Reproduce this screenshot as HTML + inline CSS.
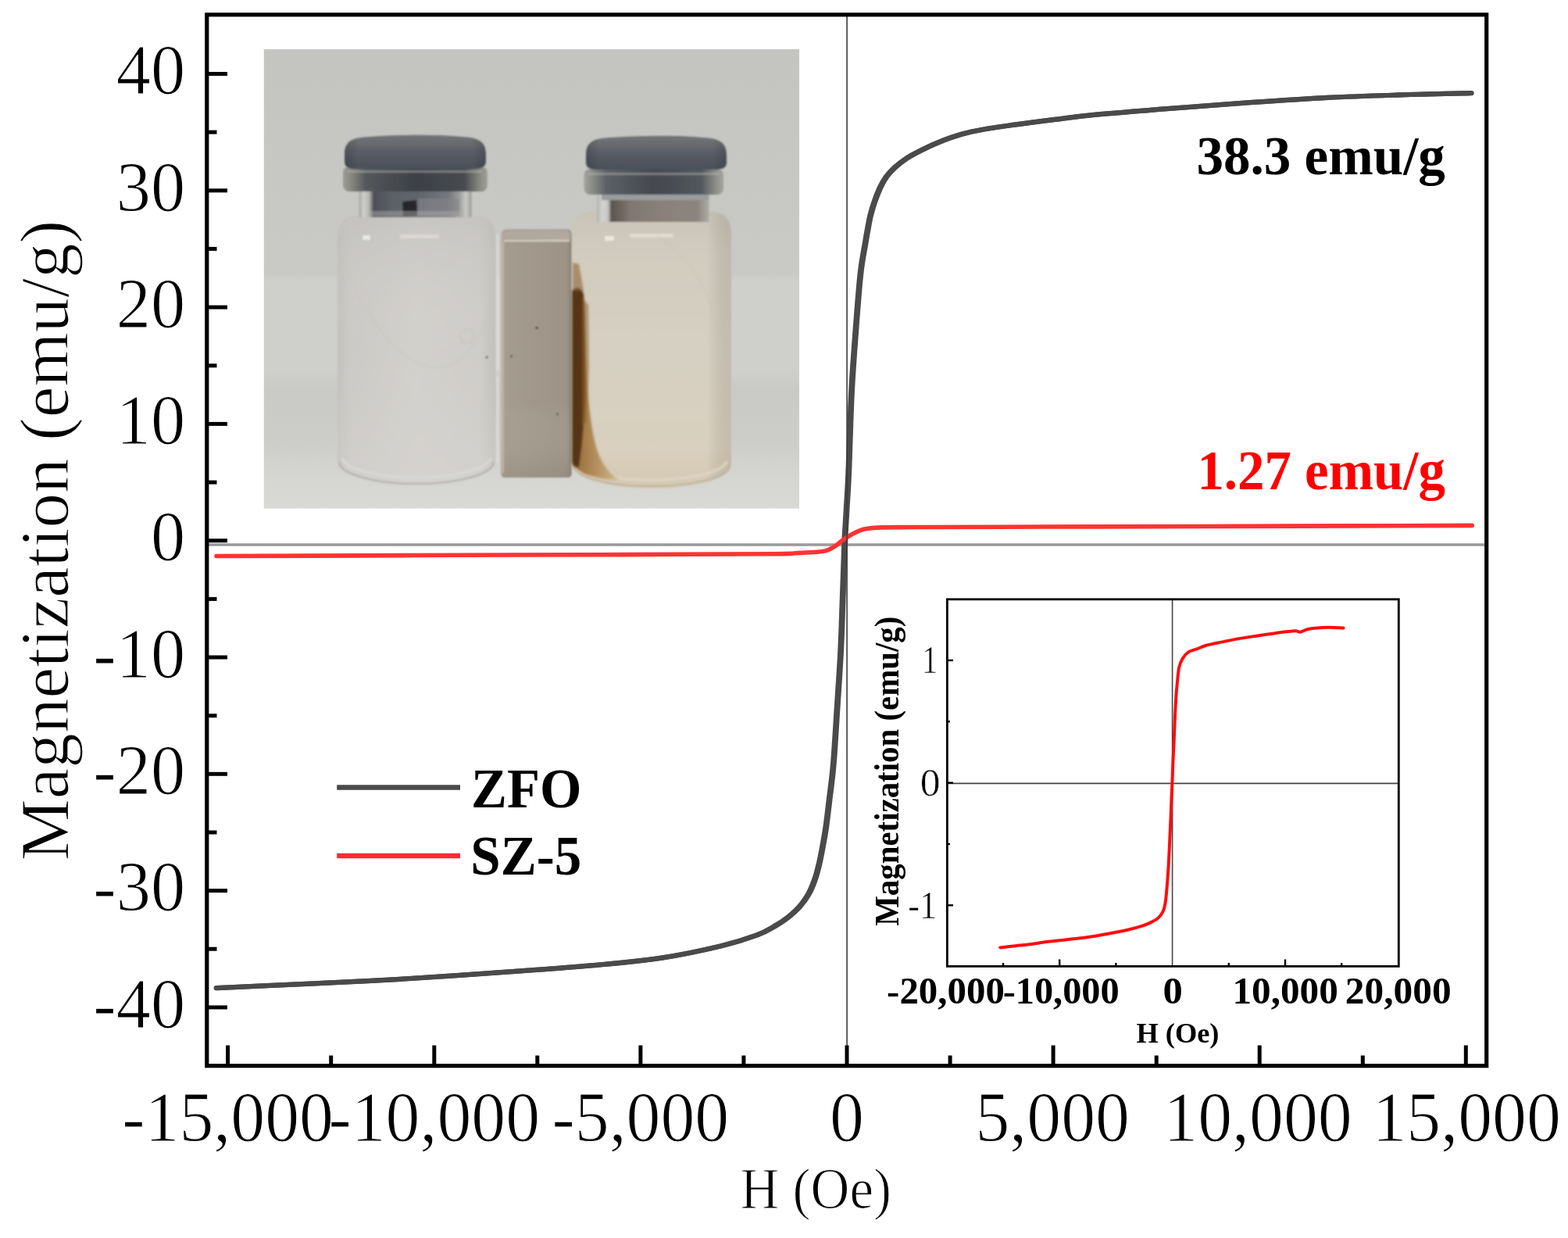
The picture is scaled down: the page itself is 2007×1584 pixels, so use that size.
<!DOCTYPE html>
<html><head><meta charset="utf-8"><title>Magnetization curves</title>
<style>
html,body{margin:0;padding:0;background:#fff;}
body{width:2007px;height:1584px;overflow:hidden;}
svg{display:block;}
text{font-family:"Liberation Serif","Times New Roman",serif;}
.thin{stroke:#fff;stroke-width:1.2px;}
.thin2{stroke:#fff;stroke-width:0.6px;}
</style></head><body>
<svg width="2007" height="1584" viewBox="0 0 2007 1584" font-family="'Liberation Serif', 'Times New Roman', serif">
<defs>
  <clipPath id="pc"><rect x="337.5" y="62.8" width="685.7" height="588"/></clipPath>
  <linearGradient id="bg" x1="0" y1="0" x2="0" y2="1">
    <stop offset="0" stop-color="#c4c5c1"/>
    <stop offset="0.49" stop-color="#c9cac6"/>
    <stop offset="0.505" stop-color="#cfd0cc"/>
    <stop offset="0.70" stop-color="#cfd0cc"/>
    <stop offset="0.74" stop-color="#c9cac5"/>
    <stop offset="0.86" stop-color="#cdcec9"/>
    <stop offset="0.93" stop-color="#d5d6d2"/>
    <stop offset="1" stop-color="#d8d9d5"/>
  </linearGradient>
  <linearGradient id="lbody" x1="0" y1="0" x2="1" y2="0">
    <stop offset="0" stop-color="#c3c1bd"/>
    <stop offset="0.08" stop-color="#ccCAc6"/>
    <stop offset="0.5" stop-color="#d2d0cc"/>
    <stop offset="0.9" stop-color="#cfcdc9"/>
    <stop offset="1" stop-color="#c2c0bb"/>
  </linearGradient>
  <linearGradient id="lbodyV" x1="0" y1="0" x2="0" y2="1">
    <stop offset="0" stop-color="#bdbbb8" stop-opacity="0.5"/>
    <stop offset="0.25" stop-color="#c8c6c2" stop-opacity="0.2"/>
    <stop offset="0.5" stop-color="#d6d4d0" stop-opacity="0"/>
    <stop offset="1" stop-color="#dad8d5" stop-opacity="0.4"/>
  </linearGradient>
  <linearGradient id="rbody" x1="0" y1="0" x2="0" y2="1">
    <stop offset="0" stop-color="#c9c4b7"/>
    <stop offset="0.15" stop-color="#d1ccbf"/>
    <stop offset="0.5" stop-color="#d6d0c2"/>
    <stop offset="0.85" stop-color="#d9d0bf"/>
    <stop offset="1" stop-color="#d5c8b1"/>
  </linearGradient>
  <linearGradient id="rbodyH" x1="0" y1="0" x2="1" y2="0">
    <stop offset="0" stop-color="#000" stop-opacity="0"/>
    <stop offset="0.85" stop-color="#000" stop-opacity="0"/>
    <stop offset="1" stop-color="#6b6455" stop-opacity="0.18"/>
  </linearGradient>
  <linearGradient id="cap" x1="0" y1="0" x2="0" y2="1">
    <stop offset="0" stop-color="#727477"/>
    <stop offset="0.3" stop-color="#67696d"/>
    <stop offset="0.45" stop-color="#5b5f67"/>
    <stop offset="1" stop-color="#4b505a"/>
  </linearGradient>
  <linearGradient id="capH" x1="0" y1="0" x2="1" y2="0">
    <stop offset="0" stop-color="#000" stop-opacity="0.15"/>
    <stop offset="0.1" stop-color="#000" stop-opacity="0"/>
    <stop offset="0.9" stop-color="#000" stop-opacity="0"/>
    <stop offset="1" stop-color="#000" stop-opacity="0.15"/>
  </linearGradient>
  <linearGradient id="rimL" x1="0" y1="0" x2="1" y2="0">
    <stop offset="0" stop-color="#9c9d95"/>
    <stop offset="0.06" stop-color="#85867f"/>
    <stop offset="0.16" stop-color="#54575b"/>
    <stop offset="0.5" stop-color="#3d4046"/>
    <stop offset="0.84" stop-color="#474a50"/>
    <stop offset="0.94" stop-color="#85867f"/>
    <stop offset="1" stop-color="#a0a199"/>
  </linearGradient>
  <linearGradient id="rimR" x1="0" y1="0" x2="1" y2="0">
    <stop offset="0" stop-color="#a3a49c"/>
    <stop offset="0.06" stop-color="#8a8c88"/>
    <stop offset="0.16" stop-color="#5c6065"/>
    <stop offset="0.5" stop-color="#44484e"/>
    <stop offset="0.84" stop-color="#53575c"/>
    <stop offset="0.94" stop-color="#8a8c88"/>
    <stop offset="1" stop-color="#a6a79f"/>
  </linearGradient>
  <linearGradient id="neckL" x1="0" y1="0" x2="1" y2="0">
    <stop offset="0" stop-color="#a4a5a1"/>
    <stop offset="0.04" stop-color="#cfd0cc"/>
    <stop offset="0.09" stop-color="#b4b5b1"/>
    <stop offset="0.13" stop-color="#4d5056"/>
    <stop offset="0.3" stop-color="#5c6068"/>
    <stop offset="0.55" stop-color="#62666d"/>
    <stop offset="0.8" stop-color="#76787c"/>
    <stop offset="0.89" stop-color="#9c9d9b"/>
    <stop offset="0.95" stop-color="#c9cac6"/>
    <stop offset="1" stop-color="#9a9b96"/>
  </linearGradient>
  <linearGradient id="neckR" x1="0" y1="0" x2="1" y2="0">
    <stop offset="0" stop-color="#b3b4b0"/>
    <stop offset="0.05" stop-color="#d3d4d1"/>
    <stop offset="0.1" stop-color="#c4c5c2"/>
    <stop offset="0.13" stop-color="#5a5550"/>
    <stop offset="0.3" stop-color="#7f7770"/>
    <stop offset="0.6" stop-color="#8a827a"/>
    <stop offset="0.9" stop-color="#8c857d"/>
    <stop offset="1" stop-color="#aeaea9"/>
  </linearGradient>
  <linearGradient id="mag" x1="0" y1="0" x2="1" y2="0">
    <stop offset="0" stop-color="#c3bbae"/>
    <stop offset="0.04" stop-color="#a59c8f"/>
    <stop offset="0.5" stop-color="#a1988b"/>
    <stop offset="0.93" stop-color="#9d9487"/>
    <stop offset="1" stop-color="#8a8175"/>
  </linearGradient>
  <linearGradient id="magV" x1="0" y1="0" x2="0" y2="1">
    <stop offset="0" stop-color="#fff" stop-opacity="0"/>
    <stop offset="0.7" stop-color="#fff" stop-opacity="0"/>
    <stop offset="1" stop-color="#7a7368" stop-opacity="0.2"/>
  </linearGradient>
  <linearGradient id="brownMed" x1="0" y1="0" x2="1" y2="0">
    <stop offset="0" stop-color="#8a5e28"/>
    <stop offset="0.4" stop-color="#a98048"/>
    <stop offset="1" stop-color="#cdb58c"/>
  </linearGradient>
  <filter id="soft" x="-5%" y="-5%" width="110%" height="110%"><feGaussianBlur stdDeviation="1"/></filter>
  <filter id="soft2" x="-20%" y="-20%" width="140%" height="140%"><feGaussianBlur stdDeviation="1.8"/></filter>
</defs>
<g clip-path="url(#pc)">
  <rect x="337.5" y="62.8" width="685.7" height="588" fill="url(#bg)"/>
  <g filter="url(#soft)">
    <!-- ===== left vial ===== -->
    <path d="M432,304 C432,283 442,276 462,275 L604,275 C624,276 634,283 634,304 L634,590 C634,608 590,622 533,622 C476,622 432,608 432,590 Z" fill="url(#lbody)"/>
    <path d="M432,304 C432,283 442,276 462,275 L604,275 C624,276 634,283 634,304 L634,590 C634,608 590,622 533,622 C476,622 432,608 432,590 Z" fill="url(#lbodyV)"/>
    <path d="M434,592 C436,606 478,619 533,619 C588,619 630,606 632,592" fill="none" stroke="#b3b2ae" stroke-width="2"/>
    <path d="M438,586 C442,600 482,611 533,611 C584,611 624,600 628,586" fill="none" stroke="#d9d8d5" stroke-width="4" opacity="0.8"/>
    <path d="M434,302 C436,288 444,281 460,280" fill="none" stroke="#c7c6c4" stroke-width="2"/>
    <rect x="459.6" y="243" width="144" height="35" fill="url(#neckL)"/>
    <path d="M515,258 L533,256 L534,276 L516,277 Z" fill="#26282c"/>
    <rect x="535" y="254" width="53" height="22" fill="#85868a" opacity="0.6"/>
    <rect x="472" y="270" width="118" height="7" fill="#b0b0ae" opacity="0.45"/>
    <rect x="439" y="213" width="185" height="32" rx="8" fill="url(#rimL)"/>
    <rect x="445" y="218" width="172" height="3" fill="#b8b9b3" opacity="0.45"/>
    <path d="M441,197 C441,180 452,176 472,175 C520,172 560,172 592,175 C612,176 622,181 622,197 L622,206 C622,214 616,216 606,216 L456,216 C446,216 441,214 441,206 Z" fill="url(#cap)"/>
    <path d="M441,197 C441,180 452,176 472,175 C520,172 560,172 592,175 C612,176 622,181 622,197 L622,206 C622,214 616,216 606,216 L456,216 C446,216 441,214 441,206 Z" fill="url(#capH)"/>
    <line x1="636.8" y1="300" x2="636.8" y2="474" stroke="#e4e4e2" stroke-width="1.6"/>
    <line x1="636.8" y1="482" x2="636.8" y2="592" stroke="#e4e4e2" stroke-width="1.6"/>
    <!-- ===== magnet ===== -->
    <path d="M641,302 Q641,293.4 650,293.4 L726,293.4 Q731.6,293.4 731.6,300 L731.6,606 Q731.6,611 726,611 L646,611 Q641,611 641,606 Z" fill="url(#mag)"/>
    <path d="M641,302 Q641,293.4 650,293.4 L726,293.4 Q731.6,293.4 731.6,300 L731.6,606 Q731.6,611 726,611 L646,611 Q641,611 641,606 Z" fill="url(#magV)"/>
    <path d="M643,306 Q643,295 652,295 L726,295 Q730,295 730,300 L730,307 Z" fill="#b1a99d"/>
    <line x1="645" y1="308" x2="729" y2="308" stroke="#d8d1c5" stroke-width="2.2"/>
    <line x1="644" y1="309" x2="644" y2="605" stroke="#bdb6aa" stroke-width="2"/>
    <!-- ===== right vial ===== -->
    <path d="M732,298 C732,278 742,271 762,270 L906,270 C926,271 936,278 936,298 L936,594 C936,612 892,625 834,625 C776,625 732,612 732,594 Z" fill="url(#rbody)"/>
    <path d="M732,298 C732,278 742,271 762,270 L906,270 C926,271 936,278 936,298 L936,594 C936,612 892,625 834,625 C776,625 732,612 732,594 Z" fill="url(#rbodyH)"/>
    <path d="M734,596 C736,610 778,622 834,622 C890,622 932,610 934,596" fill="none" stroke="#bdb5a3" stroke-width="2"/>
    <path d="M738,590 C742,604 782,614 834,614 C886,614 926,604 930,590" fill="none" stroke="#ddd5c4" stroke-width="4" opacity="0.8"/>
    <rect x="764" y="249" width="143.6" height="35" fill="url(#neckR)"/>
    <rect x="770" y="249" width="137" height="7" fill="#9a9c9e"/>
    <rect x="747.5" y="216" width="178.7" height="33" rx="8" fill="url(#rimR)"/>
    <rect x="753" y="221" width="168" height="3" fill="#b5b6b1" opacity="0.45"/>
    <path d="M750,198 C750,181 761,177 781,176 C830,173 870,173 900,176 C920,177 930,182 930,198 L930,208 C930,215 924,217 914,217 L766,217 C756,217 750,215 750,208 Z" fill="url(#cap)"/>
    <path d="M750,198 C750,181 761,177 781,176 C830,173 870,173 900,176 C920,177 930,182 930,198 L930,208 C930,215 924,217 914,217 L766,217 C756,217 750,215 750,208 Z" fill="url(#capH)"/>
  </g>

  <!-- details -->
  <g filter="url(#soft)">
    <rect x="464" y="301" width="10" height="6" fill="#ecebe8" opacity="0.9"/>
    <rect x="512" y="300" width="50" height="5" fill="#dedcd8" opacity="0.8"/>
    <rect x="774" y="302" width="12" height="6" fill="#efebe2" opacity="0.9"/>
    <rect x="806" y="299" width="56" height="5" fill="#e6e0d4" opacity="0.8"/>
    <circle cx="687" cy="419.5" r="1.6" fill="#4f4a43"/>
    <circle cx="654.5" cy="456" r="1.4" fill="#5a544c"/>
    <circle cx="713.5" cy="530" r="1.3" fill="#5a544c"/>
    <circle cx="623" cy="457" r="1.5" fill="#6a6660"/>
    <circle cx="598" cy="430" r="9" fill="none" stroke="#c2beb8" stroke-width="1.2" opacity="0.7"/>
    <path d="M440,330 C470,420 520,470 560,470 C600,470 625,420 632,360" fill="none" stroke="#c8c6c2" stroke-width="1.5" opacity="0.6"/>
    <path d="M840,300 C900,340 920,400 925,470" fill="none" stroke="#ccc6b9" stroke-width="1.5" opacity="0.5"/>
  </g>
  <!-- brown deposit -->
  <g filter="url(#soft2)">
    <path d="M732,430 L749,430 C751,500 755,545 764,575 C771,595 780,606 792,614 C780,614 760,611 748,606 C739,601 733,596 732,590 Z" fill="url(#brownMed)" opacity="0.92"/>
    <path d="M732,372 C737,366 744,368 747,376 C749,400 749,460 749,505 C748,540 745,570 741,598 L735,597 C733,595 732,593 732,590 Z" fill="#573413"/>
    <path d="M733,336 L741,338 L747,372 L733,372 Z" fill="#8a6232" opacity="0.6"/>
    <path d="M745,380 L753,390 L754,470 L751,540 L745,545 Z" fill="#8a5e28" opacity="0.55"/>
  </g>
</g>

<line x1="267" y1="697" x2="1900" y2="697" stroke="#9a9a9a" stroke-width="3.5"/>
<path d="M276.7,1264.1 C294.9,1263.3 346.5,1261.0 385.6,1259.1 C424.7,1257.2 469.3,1255.2 511.2,1252.8 C553.0,1250.3 594.9,1247.4 636.7,1244.4 C678.6,1241.4 727.4,1237.9 762.3,1234.8 C797.2,1231.7 819.3,1229.7 846.0,1225.6 C872.7,1221.5 902.3,1215.1 922.7,1210.2 C943.1,1205.3 956.8,1200.6 968.2,1196.4 C979.6,1192.2 984.3,1188.8 990.9,1185.0 C997.5,1181.2 1002.7,1177.8 1008.0,1173.6 C1013.3,1169.4 1018.4,1164.9 1022.7,1160.0 C1027.0,1155.1 1030.9,1149.8 1034.1,1144.1 C1037.3,1138.4 1039.7,1132.3 1042.0,1125.9 C1044.3,1119.5 1046.0,1112.7 1047.7,1105.5 C1049.4,1098.3 1050.9,1090.3 1052.3,1082.7 C1053.7,1075.1 1054.8,1069.5 1056.2,1060.0 C1057.6,1050.5 1058.9,1039.3 1060.5,1025.6 C1062.1,1011.9 1064.3,997.7 1066.0,977.7 C1067.7,957.7 1069.2,929.8 1070.8,905.8 C1072.3,881.8 1074.1,857.8 1075.3,833.8 C1076.5,809.8 1077.2,784.7 1078.0,761.9 C1078.8,739.1 1079.8,711.1 1080.3,697.2 C1080.8,683.4 1080.8,686.7 1081.2,678.8 C1081.6,670.9 1082.2,662.6 1082.9,650.0 C1083.6,637.4 1084.5,627.7 1085.5,603.0 C1086.5,578.3 1087.7,531.5 1089.2,502.0 C1090.7,472.6 1092.4,451.6 1094.3,426.3 C1096.2,401.1 1098.5,369.7 1100.6,350.5 C1102.7,331.3 1105.2,321.2 1106.8,311.3 C1108.4,301.4 1109.2,297.0 1110.3,291.1 C1111.4,285.2 1111.9,281.4 1113.3,276.0 C1114.7,270.6 1116.4,264.7 1118.4,258.8 C1120.4,252.9 1123.0,246.0 1125.5,240.6 C1128.0,235.2 1130.3,230.9 1133.5,226.5 C1136.7,222.1 1140.4,218.2 1144.6,214.3 C1148.8,210.4 1153.6,206.7 1158.8,203.2 C1164.0,199.7 1169.1,197.0 1176.0,193.5 C1182.9,190.0 1191.0,185.9 1200.0,182.3 C1209.0,178.7 1219.9,174.6 1229.9,171.8 C1239.9,169.0 1248.2,167.4 1259.8,165.3 C1271.4,163.2 1284.8,161.5 1299.7,159.4 C1314.7,157.3 1332.8,155.0 1349.5,152.9 C1366.2,150.8 1375.0,149.3 1400.0,146.9 C1425.0,144.5 1466.5,141.2 1499.7,138.6 C1532.9,136.0 1566.1,133.5 1599.3,131.2 C1632.5,128.9 1665.8,126.6 1699.0,124.9 C1732.2,123.2 1768.1,122.2 1798.6,121.2 C1829.1,120.2 1868.1,119.5 1882.0,119.2" fill="none" stroke="#4a4a4a" stroke-width="6.2" stroke-linecap="round" stroke-linejoin="round"/>
<path d="M276.7,1264.1 C294.9,1263.3 346.5,1261.0 385.6,1259.1 C424.7,1257.2 469.3,1255.2 511.2,1252.8 C553.0,1250.3 594.9,1247.4 636.7,1244.4 C678.6,1241.4 727.4,1237.9 762.3,1234.8 C797.2,1231.7 819.3,1229.7 846.0,1225.6 C872.7,1221.5 902.3,1215.1 922.7,1210.2 C943.1,1205.3 956.8,1200.6 968.2,1196.4 C979.6,1192.2 984.3,1188.8 990.9,1185.0 C997.5,1181.2 1002.7,1177.8 1008.0,1173.6 C1013.3,1169.4 1018.4,1164.9 1022.7,1160.0 C1027.0,1155.1 1030.9,1149.8 1034.1,1144.1 C1037.3,1138.4 1039.7,1132.3 1042.0,1125.9 C1044.3,1119.5 1046.0,1112.7 1047.7,1105.5 C1049.4,1098.3 1050.9,1090.3 1052.3,1082.7 C1053.7,1075.1 1054.8,1069.5 1056.2,1060.0 C1057.6,1050.5 1058.9,1039.3 1060.5,1025.6 C1062.1,1011.9 1064.3,997.7 1066.0,977.7 C1067.7,957.7 1069.2,929.8 1070.8,905.8 C1072.3,881.8 1074.1,857.8 1075.3,833.8 C1076.5,809.8 1077.2,784.7 1078.0,761.9 C1078.8,739.1 1079.8,711.1 1080.3,697.2 C1080.8,683.4 1080.8,686.7 1081.2,678.8 C1081.6,670.9 1082.2,662.6 1082.9,650.0 C1083.6,637.4 1084.5,627.7 1085.5,603.0 C1086.5,578.3 1087.7,531.5 1089.2,502.0 C1090.7,472.6 1092.4,451.6 1094.3,426.3 C1096.2,401.1 1098.5,369.7 1100.6,350.5 C1102.7,331.3 1105.2,321.2 1106.8,311.3 C1108.4,301.4 1109.2,297.0 1110.3,291.1 C1111.4,285.2 1111.9,281.4 1113.3,276.0 C1114.7,270.6 1116.4,264.7 1118.4,258.8 C1120.4,252.9 1123.0,246.0 1125.5,240.6 C1128.0,235.2 1130.3,230.9 1133.5,226.5 C1136.7,222.1 1140.4,218.2 1144.6,214.3 C1148.8,210.4 1153.6,206.7 1158.8,203.2 C1164.0,199.7 1169.1,197.0 1176.0,193.5 C1182.9,190.0 1191.0,185.9 1200.0,182.3 C1209.0,178.7 1219.9,174.6 1229.9,171.8 C1239.9,169.0 1248.2,167.4 1259.8,165.3 C1271.4,163.2 1284.8,161.5 1299.7,159.4 C1314.7,157.3 1332.8,155.0 1349.5,152.9 C1366.2,150.8 1375.0,149.3 1400.0,146.9 C1425.0,144.5 1466.5,141.2 1499.7,138.6 C1532.9,136.0 1566.1,133.5 1599.3,131.2 C1632.5,128.9 1665.8,126.6 1699.0,124.9 C1732.2,123.2 1768.1,122.2 1798.6,121.2 C1829.1,120.2 1868.1,119.5 1882.0,119.2" transform="translate(1.6,0)" fill="none" stroke="#4a4a4a" stroke-width="6.2" stroke-linecap="round" stroke-linejoin="round"/>
<path d="M277.0,711.5 C297.5,711.4 346.2,711.3 400.0,711.1 C453.8,710.9 533.3,710.5 600.0,710.3 C666.7,710.0 735.0,709.9 800.0,709.6 C865.0,709.3 953.7,709.0 990.0,708.7 C1026.3,708.4 1008.6,708.1 1017.9,707.7 C1027.2,707.3 1039.4,706.8 1045.8,706.3 C1052.2,705.8 1053.4,705.6 1056.3,704.9 C1059.2,704.2 1060.9,703.3 1063.2,702.1 C1065.5,700.9 1067.9,699.5 1070.2,697.9 C1072.5,696.3 1074.9,694.0 1077.2,692.3 C1079.5,690.5 1081.8,688.9 1084.1,687.4 C1086.4,685.9 1088.8,684.6 1091.1,683.3 C1093.4,682.0 1095.2,680.9 1098.1,679.8 C1101.0,678.7 1103.4,677.4 1108.6,676.6 C1113.8,675.8 1117.7,675.2 1129.5,674.9 C1141.3,674.5 1134.3,674.7 1179.4,674.5 C1224.5,674.3 1321.6,674.1 1400.0,673.9 C1478.4,673.7 1569.3,673.4 1650.0,673.1 C1730.7,672.9 1845.2,672.5 1884.2,672.4" fill="none" stroke="#ff3333" stroke-width="5.6" stroke-linecap="round" stroke-linejoin="round"/>
<line x1="1084.1" y1="21" x2="1084.1" y2="1361" stroke="#3a3a3a" stroke-width="1.6"/>
<rect x="264.8" y="18.8" width="1637.9" height="1344.9" fill="none" stroke="#000" stroke-width="5.2"/>
<line x1="265" y1="1288.9" x2="291" y2="1288.9" stroke="#000" stroke-width="5"/>
<line x1="265" y1="1139.6" x2="291" y2="1139.6" stroke="#000" stroke-width="5"/>
<line x1="265" y1="990.3" x2="291" y2="990.3" stroke="#000" stroke-width="5"/>
<line x1="265" y1="841.0" x2="291" y2="841.0" stroke="#000" stroke-width="5"/>
<line x1="265" y1="691.7" x2="291" y2="691.7" stroke="#000" stroke-width="5"/>
<line x1="265" y1="542.4" x2="291" y2="542.4" stroke="#000" stroke-width="5"/>
<line x1="265" y1="393.1" x2="291" y2="393.1" stroke="#000" stroke-width="5"/>
<line x1="265" y1="243.8" x2="291" y2="243.8" stroke="#000" stroke-width="5"/>
<line x1="265" y1="94.5" x2="291" y2="94.5" stroke="#000" stroke-width="5"/>
<line x1="265" y1="1214.2" x2="277.5" y2="1214.2" stroke="#000" stroke-width="5"/>
<line x1="265" y1="1065.0" x2="277.5" y2="1065.0" stroke="#000" stroke-width="5"/>
<line x1="265" y1="915.7" x2="277.5" y2="915.7" stroke="#000" stroke-width="5"/>
<line x1="265" y1="766.4" x2="277.5" y2="766.4" stroke="#000" stroke-width="5"/>
<line x1="265" y1="617.1" x2="277.5" y2="617.1" stroke="#000" stroke-width="5"/>
<line x1="265" y1="467.8" x2="277.5" y2="467.8" stroke="#000" stroke-width="5"/>
<line x1="265" y1="318.4" x2="277.5" y2="318.4" stroke="#000" stroke-width="5"/>
<line x1="265" y1="169.1" x2="277.5" y2="169.1" stroke="#000" stroke-width="5"/>
<line x1="291.6" y1="1362" x2="291.6" y2="1337.5" stroke="#000" stroke-width="5"/>
<line x1="555.8" y1="1362" x2="555.8" y2="1337.5" stroke="#000" stroke-width="5"/>
<line x1="819.9" y1="1362" x2="819.9" y2="1337.5" stroke="#000" stroke-width="5"/>
<line x1="1084.0" y1="1362" x2="1084.0" y2="1337.5" stroke="#000" stroke-width="5"/>
<line x1="1348.1" y1="1362" x2="1348.1" y2="1337.5" stroke="#000" stroke-width="5"/>
<line x1="1612.2" y1="1362" x2="1612.2" y2="1337.5" stroke="#000" stroke-width="5"/>
<line x1="1876.3" y1="1362" x2="1876.3" y2="1337.5" stroke="#000" stroke-width="5"/>
<line x1="423.7" y1="1362" x2="423.7" y2="1350.5" stroke="#000" stroke-width="5"/>
<line x1="687.8" y1="1362" x2="687.8" y2="1350.5" stroke="#000" stroke-width="5"/>
<line x1="951.9" y1="1362" x2="951.9" y2="1350.5" stroke="#000" stroke-width="5"/>
<line x1="1216.1" y1="1362" x2="1216.1" y2="1350.5" stroke="#000" stroke-width="5"/>
<line x1="1480.2" y1="1362" x2="1480.2" y2="1350.5" stroke="#000" stroke-width="5"/>
<line x1="1744.3" y1="1362" x2="1744.3" y2="1350.5" stroke="#000" stroke-width="5"/>
<line x1="431.2" y1="1007.5" x2="589" y2="1007.5" stroke="#4a4a4a" stroke-width="6.5"/>
<line x1="431.2" y1="1095" x2="589" y2="1095" stroke="#ff2a36" stroke-width="6.5"/>
<rect x="1212.4" y="766.8" width="577.9" height="469.6" fill="#fff" stroke="none"/>
<line x1="1213" y1="1002.4" x2="1790" y2="1002.4" stroke="#444" stroke-width="1.6"/>
<line x1="1500.6" y1="767" x2="1500.6" y2="1236" stroke="#444" stroke-width="1.6"/>
<path d="M1280.2,1212.4 C1283.5,1212.0 1293.6,1210.9 1299.9,1210.2 C1306.2,1209.5 1310.8,1209.1 1317.8,1208.2 C1324.8,1207.3 1333.7,1205.8 1341.7,1204.8 C1349.7,1203.8 1357.7,1203.1 1365.7,1202.2 C1373.7,1201.3 1380.6,1200.9 1389.6,1199.6 C1398.6,1198.3 1410.5,1196.2 1419.5,1194.5 C1428.5,1192.8 1436.4,1191.3 1443.4,1189.7 C1450.4,1188.1 1456.3,1186.5 1461.3,1184.9 C1466.3,1183.3 1469.7,1181.9 1473.3,1180.1 C1476.9,1178.3 1480.3,1176.5 1482.9,1174.1 C1485.5,1171.7 1487.3,1169.2 1488.8,1165.8 C1490.3,1162.4 1491.0,1158.8 1491.8,1153.8 C1492.6,1148.8 1493.0,1142.9 1493.6,1135.9 C1494.2,1128.9 1494.8,1121.3 1495.4,1112.0 C1496.0,1102.7 1496.5,1091.2 1497.0,1080.0 C1497.5,1068.8 1498.2,1054.7 1498.6,1045.0 C1499.0,1035.3 1499.2,1029.2 1499.5,1022.0 C1499.8,1014.8 1500.1,1009.8 1500.4,1002.0 C1500.7,994.2 1501.0,983.7 1501.4,975.0 C1501.8,966.3 1502.2,958.3 1502.6,950.0 C1503.0,941.7 1503.3,931.7 1503.6,925.0 C1503.9,918.3 1504.0,915.8 1504.3,910.0 C1504.6,904.2 1505.0,895.7 1505.4,890.0 C1505.8,884.3 1506.1,881.7 1506.7,875.7 C1507.3,869.7 1507.9,859.7 1509.1,854.1 C1510.3,848.5 1511.9,845.5 1513.9,842.2 C1515.9,838.9 1518.1,836.4 1521.1,834.4 C1524.1,832.4 1528.1,831.8 1531.9,830.4 C1535.7,829.0 1538.8,827.2 1543.8,825.8 C1548.8,824.4 1554.7,823.3 1561.7,821.9 C1568.7,820.5 1577.7,818.5 1585.7,817.1 C1593.7,815.7 1601.6,814.7 1609.6,813.5 C1617.6,812.3 1625.5,810.9 1633.5,809.9 C1641.5,808.9 1652.2,807.5 1657.4,807.3 C1662.6,807.1 1661.6,809.0 1664.6,808.6 C1667.6,808.2 1669.5,805.7 1675.3,804.7 C1681.1,803.7 1691.9,802.9 1699.3,802.7 C1706.7,802.5 1716.2,803.3 1719.6,803.4" fill="none" stroke="#ff0d0d" stroke-width="4" stroke-linecap="round" stroke-linejoin="round"/>
<rect x="1212.4" y="766.8" width="577.9" height="469.6" fill="none" stroke="#000" stroke-width="2.8"/>
<line x1="1213" y1="1158.3" x2="1220" y2="1158.3" stroke="#000" stroke-width="2.4"/>
<line x1="1213" y1="1001.6" x2="1220" y2="1001.6" stroke="#000" stroke-width="2.4"/>
<line x1="1213" y1="844.9" x2="1220" y2="844.9" stroke="#000" stroke-width="2.4"/>
<line x1="1213" y1="1080.0" x2="1216" y2="1080.0" stroke="#000" stroke-width="2.4"/>
<line x1="1213" y1="923.2" x2="1216" y2="923.2" stroke="#000" stroke-width="2.4"/>
<line x1="1356.2" y1="1236" x2="1356.2" y2="1227.5" stroke="#000" stroke-width="2.4"/>
<line x1="1645.0" y1="1236" x2="1645.0" y2="1227.5" stroke="#000" stroke-width="2.4"/>
<line x1="1284.0" y1="1236" x2="1284.0" y2="1232" stroke="#000" stroke-width="2.4"/>
<line x1="1428.4" y1="1236" x2="1428.4" y2="1232" stroke="#000" stroke-width="2.4"/>
<line x1="1572.8" y1="1236" x2="1572.8" y2="1232" stroke="#000" stroke-width="2.4"/>
<line x1="1717.2" y1="1236" x2="1717.2" y2="1232" stroke="#000" stroke-width="2.4"/>
<text transform="translate(119.32,1314.60) scale(0.9750,1)" font-size="90.67" font-weight="normal" fill="#000" class="thin">-40</text>
<text transform="translate(119.32,1165.30) scale(0.9750,1)" font-size="90.67" font-weight="normal" fill="#000" class="thin">-30</text>
<text transform="translate(119.32,1016.00) scale(0.9750,1)" font-size="90.67" font-weight="normal" fill="#000" class="thin">-20</text>
<text transform="translate(119.32,866.70) scale(0.9750,1)" font-size="90.67" font-weight="normal" fill="#000" class="thin">-10</text>
<text transform="translate(192.96,717.40) scale(0.9750,1)" font-size="90.67" font-weight="normal" fill="#000" class="thin">0</text>
<text transform="translate(148.76,568.10) scale(0.9750,1)" font-size="90.67" font-weight="normal" fill="#000" class="thin">10</text>
<text transform="translate(148.76,418.80) scale(0.9750,1)" font-size="90.67" font-weight="normal" fill="#000" class="thin">20</text>
<text transform="translate(148.76,269.50) scale(0.9750,1)" font-size="90.67" font-weight="normal" fill="#000" class="thin">30</text>
<text transform="translate(148.76,120.20) scale(0.9750,1)" font-size="90.67" font-weight="normal" fill="#000" class="thin">40</text>
<text transform="translate(156.37,1460.00) scale(0.9650,1)" font-size="90.97" font-weight="normal" fill="#000" class="thin">-15,000</text>
<text transform="translate(420.48,1460.00) scale(0.9650,1)" font-size="90.97" font-weight="normal" fill="#000" class="thin">-10,000</text>
<text transform="translate(706.55,1460.00) scale(0.9650,1)" font-size="90.97" font-weight="normal" fill="#000" class="thin">-5,000</text>
<text transform="translate(1062.05,1460.00) scale(0.9650,1)" font-size="90.97" font-weight="normal" fill="#000" class="thin">0</text>
<text transform="translate(1248.48,1460.00) scale(0.9650,1)" font-size="90.97" font-weight="normal" fill="#000" class="thin">5,000</text>
<text transform="translate(1489.34,1460.00) scale(0.9650,1)" font-size="90.97" font-weight="normal" fill="#000" class="thin">10,000</text>
<text transform="translate(1756.46,1460.00) scale(0.9650,1)" font-size="90.97" font-weight="normal" fill="#000" class="thin">15,000</text>
<text transform="translate(947.51,1545.90) scale(0.9279,1)" font-size="74.38" font-weight="normal" fill="#000" class="thin">H (Oe)</text>
<text transform="translate(86.80,1101.57) rotate(-90) scale(1.0142,1)" font-size="87.97" font-weight="normal" fill="#000" class="thin">Magnetization (emu/g)</text>
<text transform="translate(1531.50,223.00) scale(0.9794,1)" font-size="70.52" font-weight="bold" fill="#000">38.3 emu/g</text>
<text transform="translate(1532.38,626.00) scale(0.9543,1)" font-size="72.18" font-weight="bold" fill="#ff0000">1.27 emu/g</text>
<text transform="translate(603.11,1032.60) scale(0.9472,1)" font-size="72.54" font-weight="bold" fill="#000">ZFO</text>
<text transform="translate(602.32,1118.70) scale(0.9683,1)" font-size="71.32" font-weight="bold" fill="#000">SZ-5</text>
<text transform="translate(1180.20,861.30) scale(0.7871,1)" font-size="50.52" font-weight="normal" fill="#000" class="thin2">1</text>
<text transform="translate(1177.73,1017.60) scale(1.0258,1)" font-size="50.37" font-weight="normal" fill="#000" class="thin2">0</text>
<text transform="translate(1162.15,1174.50) scale(0.8745,1)" font-size="50.97" font-weight="normal" fill="#000" class="thin2">-1</text>
<text transform="translate(1135.11,1284.00) scale(1.0006,1)" font-size="48.87" font-weight="bold" fill="#000">-20,000</text>
<text transform="translate(1283.63,1284.00) scale(0.9897,1)" font-size="48.87" font-weight="bold" fill="#000">-10,000</text>
<text transform="translate(1488.48,1284.00) scale(1.0332,1)" font-size="48.87" font-weight="bold" fill="#000">0</text>
<text transform="translate(1577.46,1284.00) scale(1.0077,1)" font-size="48.87" font-weight="bold" fill="#000">10,000</text>
<text transform="translate(1721.83,1284.00) scale(1.0101,1)" font-size="48.87" font-weight="bold" fill="#000">20,000</text>
<text transform="translate(1454.38,1334.30) scale(1.0099,1)" font-size="36.04" font-weight="bold" fill="#000">H (Oe)</text>
<text transform="translate(1149.70,1184.70) rotate(-90) scale(0.9133,1)" font-size="44.75" font-weight="bold" fill="#000">Magnetization (emu/g)</text>
</svg>
</body></html>
